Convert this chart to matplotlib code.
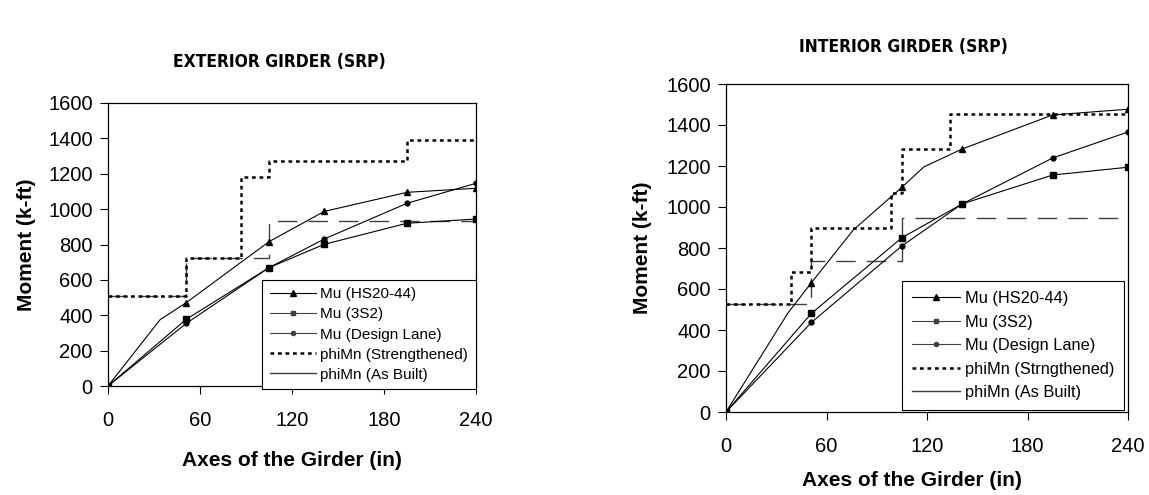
import matplotlib
matplotlib.use("Agg")
import matplotlib.pyplot as plt
from matplotlib.lines import Line2D

plt.rcParams['font.family'] = ['Liberation Sans', 'DejaVu Sans']

# ---------------- data: EXTERIOR GIRDER ----------------
ext_hs20_x = [0, 34, 51, 105, 141, 195, 240]
ext_hs20_y = [0, 375, 471, 816, 987, 1095, 1118]
ext_hs20_mark = [0, 2, 3, 4, 5, 6]
ext_3s2_x = [0, 51, 105, 141, 195, 240]
ext_3s2_y = [0, 377, 669, 801, 920, 944]
ext_lane_x = [0, 51, 105, 141, 195, 240]
ext_lane_y = [0, 354, 669, 831, 1033, 1146]
ext_str_x = [0, 51, 51, 87, 87, 105, 105, 195, 195, 240]
ext_str_y = [510, 510, 725, 725, 1183, 1183, 1270, 1270, 1389, 1389]
ext_asb_x = [0, 51, 51, 105, 105, 240]
ext_asb_y = [510, 510, 725, 725, 932, 932]

# ---------------- data: INTERIOR GIRDER ----------------
int_hs20_x = [0, 37, 51, 76, 105, 118, 141, 195, 240]
int_hs20_y = [0, 483, 631, 888, 1096, 1195, 1283, 1449, 1477]
int_hs20_mark = [0, 2, 4, 6, 7, 8]
int_3s2_x = [0, 51, 105, 141, 195, 240]
int_3s2_y = [0, 481, 850, 1015, 1156, 1194]
int_lane_x = [0, 51, 105, 141, 195, 240]
int_lane_y = [0, 437, 810, 1015, 1239, 1366]
int_str_x = [0, 38.6, 38.6, 50.6, 50.6, 98.5, 98.5, 105, 105, 134, 134, 240]
int_str_y = [527, 527, 684, 684, 899, 899, 1070, 1070, 1283, 1283, 1455, 1455]
int_asb_x = [0, 50.6, 50.6, 105, 105, 240]
int_asb_y = [527, 527, 737, 737, 946, 946]

x_ticks = [0, 60, 120, 180, 240]
y_ticks = [0, 200, 400, 600, 800, 1000, 1200, 1400, 1600]

ext_labels = ["Mu (HS20-44)", "Mu (3S2)", "Mu (Design Lane)",
              "phiMn (Strengthened)", "phiMn (As Built)"]
int_labels = ["Mu (HS20-44)", "Mu (3S2)", "Mu (Design Lane)",
              "phiMn (Strngthened)", "phiMn (As Built)"]

W, H = 1149, 495
fig = plt.figure(figsize=(W / 100, H / 100), dpi=100)

TICK_FS = 14.5
LAB_FS = 15


def draw(ax, hs_x, hs_y, hs_mark, s_x, s_y, l_x, l_y, st_x, st_y, ab_x, ab_y,
         labels, leg_anchor, leg_fs, leg_ls, leg_hl, leg_bp):
    ax.plot(ab_x, ab_y, color='#404040', lw=1.0, dashes=(14, 8), zorder=2)
    ax.plot(st_x, st_y, color='black', lw=1.8, dashes=(1.5, 1.5), zorder=3)
    ax.plot(hs_x, hs_y, color='black', lw=0.8, marker='^', ms=5,
            markevery=hs_mark, zorder=4)
    ax.plot(s_x, s_y, color='black', lw=0.8, marker='s', ms=4, zorder=4)
    ax.plot(l_x, l_y, color='black', lw=0.8, marker='o', ms=3.5, zorder=4)
    ax.set_xlim(0, 240)
    ax.set_ylim(0, 1600)
    ax.set_xticks(x_ticks)
    ax.set_yticks(y_ticks)
    ax.tick_params(axis='both', direction='out', length=6, width=0.8,
                   labelsize=TICK_FS, colors='black')
    ax.tick_params(axis='x', pad=12)
    ax.tick_params(axis='y', pad=5)
    for sp in ax.spines.values():
        sp.set_linewidth(0.9)
        sp.set_color('black')
    handles = [
        Line2D([], [], color='black', lw=0.8, marker='^', ms=4),
        Line2D([], [], color='#404040', lw=0.8, marker='s', ms=3),
        Line2D([], [], color='#404040', lw=0.8, marker='o', ms=3),
        Line2D([], [], color='black', lw=1.8, dashes=(1.5, 1.5)),
        Line2D([], [], color='#404040', lw=1.0),
    ]
    leg = ax.legend(handles, labels, loc='lower right', bbox_to_anchor=leg_anchor,
                    fontsize=leg_fs, frameon=True, fancybox=False, framealpha=1,
                    edgecolor='black', borderaxespad=0, handlelength=leg_hl,
                    handletextpad=0.3, labelspacing=leg_ls, borderpad=leg_bp)
    leg.get_frame().set_linewidth(0.8)
    leg.set_zorder(10)


ax1 = fig.add_axes([108 / W, 1 - 386 / H, 368 / W, 283 / H])
draw(ax1, ext_hs20_x, ext_hs20_y, ext_hs20_mark, ext_3s2_x, ext_3s2_y,
     ext_lane_x, ext_lane_y, ext_str_x, ext_str_y, ext_asb_x, ext_asb_y,
     ext_labels, (1.0, -0.012), 11, 0.40, 3.0, 0.5)

ax2 = fig.add_axes([726 / W, 1 - 412 / H, 402 / W, 328 / H])
draw(ax2, int_hs20_x, int_hs20_y, int_hs20_mark, int_3s2_x, int_3s2_y,
     int_lane_x, int_lane_y, int_str_x, int_str_y, int_asb_x, int_asb_y,
     int_labels, (0.99, 0.006), 11.8, 0.52, 2.9, 0.6)

title_kw = dict(ha='center', va='center', fontsize=12.5, fontweight='bold',
                family=['DejaVu Sans'], fontstretch='condensed')
fig.text(279 / W, 1 - 62 / H, "EXTERIOR GIRDER (SRP)", **title_kw)
fig.text(903 / W, 1 - 47 / H, "INTERIOR GIRDER (SRP)", **title_kw)

fig.text(27 / W, 1 - 245 / H, "Moment (k-ft)", rotation=90, ha='center',
         va='center', fontsize=LAB_FS, fontweight='bold')
fig.text(643 / W, 1 - 248 / H, "Moment (k-ft)", rotation=90, ha='center',
         va='center', fontsize=LAB_FS, fontweight='bold')
fig.text(292 / W, 1 - 460 / H, "Axes of the Girder (in)", ha='center',
         va='center', fontsize=LAB_FS, fontweight='bold')
fig.text(912 / W, 1 - 481 / H, "Axes of the Girder (in)", ha='center',
         va='center', fontsize=LAB_FS, fontweight='bold')

fig.savefig("out.png", dpi=100, facecolor='white')
